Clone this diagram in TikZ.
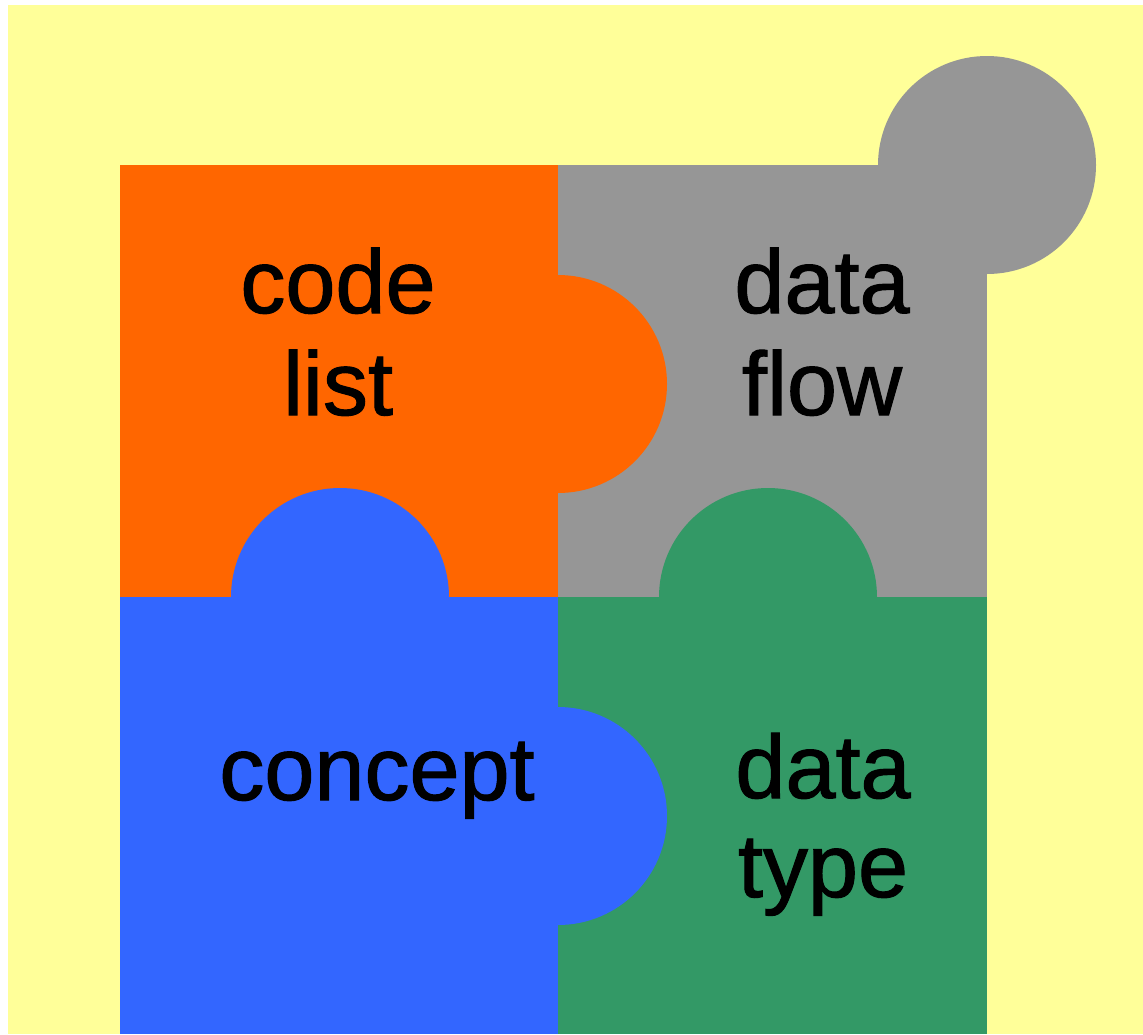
\documentclass[tikz,border=0pt]{standalone}
\usepackage{fontspec}
\setmainfont{Liberation Sans}
\newfontfamily\lblfont[FakeBold=1.2]{Liberation Sans}
\definecolor{bgyellow}{HTML}{FFFF99}
\definecolor{porange}{HTML}{FF6600}
\definecolor{pgray}{HTML}{969696}
\definecolor{pblue}{HTML}{3366FF}
\definecolor{pgreen}{HTML}{339966}
\tikzset{
  lbl/.style={align=center, font=\lblfont\fontsize{90}{102}\selectfont, text=black, inner sep=0pt, anchor=base},
}
\begin{document}
\begin{tikzpicture}[x=1pt,y=-1pt]
\useasboundingbox (0,0) rectangle (1143,1034);
\fill[bgyellow] (8,5) rectangle (1143,1034);
% gray piece
\fill[pgray] (558,165) rectangle (987,597);
\fill[pgray] (987,165) circle[radius=109];
% orange piece
\fill[porange] (120,165) rectangle (558,597);
\fill[porange] (558,384) circle[radius=109];
% green piece
\fill[pgreen] (558,597) rectangle (987,1034);
\fill[pgreen] (768,597) circle[radius=109];
% blue piece
\fill[pblue] (120,597) rectangle (558,1034);
\fill[pblue] (340,597) circle[radius=109];
\fill[pblue] (558,816) circle[radius=109];
% labels
\node[lbl] (code) at (338,313) {code};
\node[lbl] (list) at (338,415) {list};
\node[lbl] (data1) at (822,313) {data};
\node[lbl] (flow) at (822,415) {flow};
\node[lbl] (concept) at (377,800) {concept};
\node[lbl] (data2) at (823,798) {data};
\node[lbl] (type) at (823,897) {type};
\end{tikzpicture}
\end{document}
